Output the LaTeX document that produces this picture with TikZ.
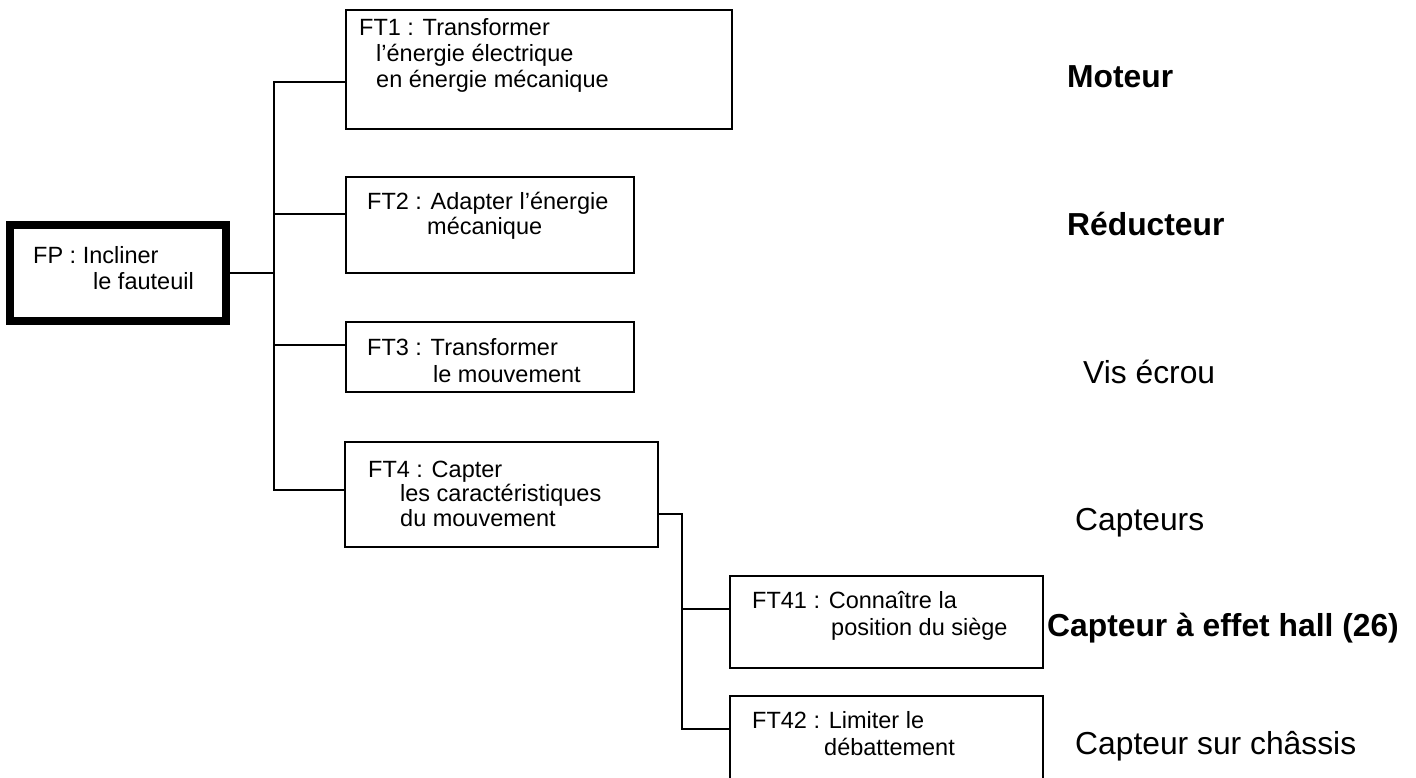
\documentclass[tikz,border=0pt]{standalone}
\usepackage{fontspec}
\setmainfont{Liberation Sans}
\begin{document}
\begin{tikzpicture}[x=1pt,y=-1pt,
  box/.style={draw,rectangle,line width=2pt,inner sep=0pt,outer sep=0pt},
  mainbox/.style={draw,rectangle,line width=8pt,inner sep=0pt},
  link/.style={line width=2pt,line cap=rect},
  txt/.style={anchor=base west,inner sep=0pt,font=\fontsize{23.5}{26}\selectfont},
  res/.style={anchor=base west,inner sep=0pt,font=\fontsize{31.8}{36}\selectfont},
  resb/.style={res,font=\fontsize{31.8}{36}\selectfont\bfseries}]
\clip (0,0) rectangle (1416,778);

% function boxes (corner to corner, stroke centre)
\node[mainbox,minimum width=216pt,minimum height=95.5pt] (fp) at (118,273.25) {};
\node[box,minimum width=386pt,minimum height=119pt] (ft1) at (539,69.5) {};
\node[box,minimum width=288pt,minimum height=96pt] (ft2) at (490,225) {};
\node[box,minimum width=288pt,minimum height=70pt] (ft3) at (490,357) {};
\node[box,minimum width=313pt,minimum height=105pt] (ft4) at (501.5,494.5) {};
\node[box,minimum width=313pt,minimum height=92pt] (ft41) at (886.5,622) {};
\node[box,minimum width=313pt,minimum height=110pt] (ft42) at (886.5,751) {};

% box texts
\node[txt] (fpa) at (33,263) {FP : Incliner};
\node[txt] (fpb) at (93,289) {le fauteuil};
\node[txt] (ft1a) at (359,36) {FT1 : Transformer};
\node[txt] (ft1b) at (376,62) {l’énergie électrique};
\node[txt] (ft1c) at (376,88) {en énergie mécanique};
\node[txt] (ft2a) at (367,210) {FT2 : Adapter l’énergie};
\node[txt] (ft2b) at (427,235) {mécanique};
\node[txt] (ft3a) at (367,355) {FT3 : Transformer};
\node[txt] (ft3b) at (433,382) {le mouvement};
\node[txt] (ft4a) at (368,477) {FT4 : Capter};
\node[txt] (ft4b) at (400,501) {les caractéristiques};
\node[txt] (ft4c) at (400,526) {du mouvement};
\node[txt] (ft41a) at (752,608) {FT41 : Connaître la};
\node[txt] (ft41b) at (831,635) {position du siège};
\node[txt] (ft42a) at (752,728) {FT42 : Limiter le};
\node[txt] (ft42b) at (824,755) {débattement};

% solutions
\node[resb] (s1) at (1067,88) {Moteur};
\node[resb] (s2) at (1067,236) {Réducteur};
\node[res] (s3) at (1083,383) {Vis écrou};
\node[res] (s4) at (1075,530) {Capteurs};
\node[resb] (s41) at (1047,636) {Capteur à effet hall (26)};
\node[res] (s42) at (1075,754) {Capteur sur châssis};

% junction points of the tree
\coordinate (j0) at (274,273.25);
\coordinate (j1) at (274,82);
\coordinate (j2) at (274,214);
\coordinate (j3) at (274,345);
\coordinate (j4) at (274,490);
\coordinate (k0) at (682,514);
\coordinate (k1) at (682,609);
\coordinate (k2) at (682,729);

% connectors
\draw[link] (fp.east) -- (j0);
\draw[link] (j1) -- (j4);
\draw[link] (j1) -- (j1 -| ft1.west);
\draw[link] (j2) -- (j2 -| ft2.west);
\draw[link] (j3) -- (j3 -| ft3.west);
\draw[link] (j4) -- (j4 -| ft4.west);
\draw[link] (k0 -| ft4.east) -- (k0) -- (k2);
\draw[link] (k1) -- (k1 -| ft41.west);
\draw[link] (k2) -- (k2 -| ft42.west);
\end{tikzpicture}
\end{document}
